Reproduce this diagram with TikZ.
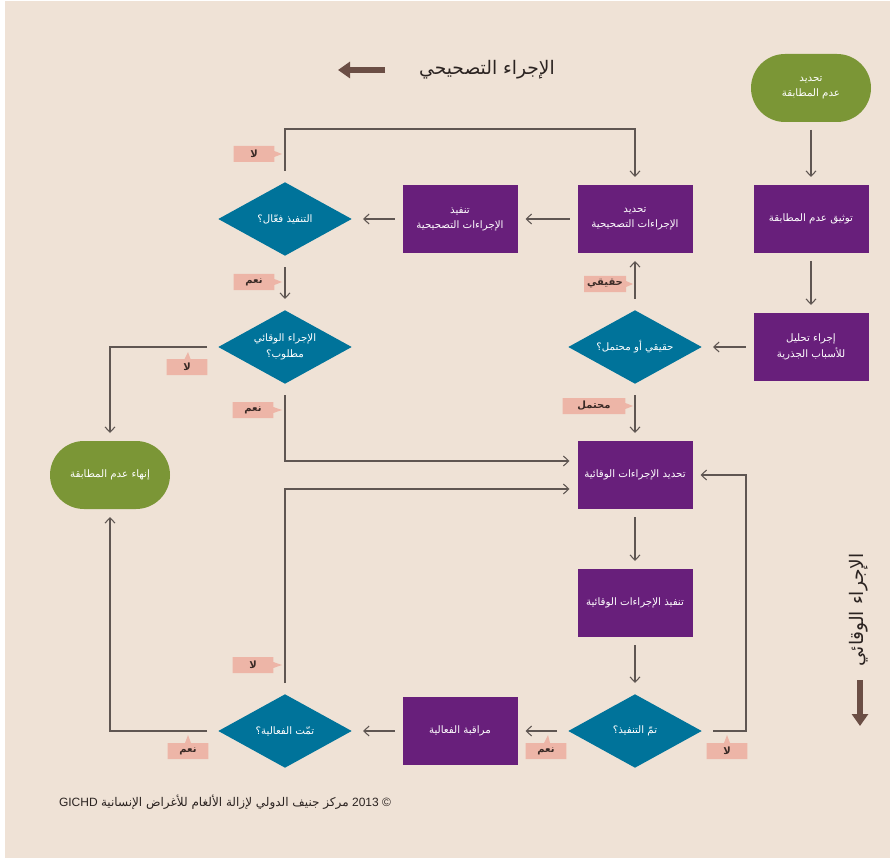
\documentclass[tikz,border=0pt]{standalone}
\usepackage{fontspec}
\setmainfont{Liberation Sans}
\newfontfamily\arabicfont[Script=Arabic]{DejaVu Sans}
\TeXXeTstate=1
\usetikzlibrary{shapes.geometric,shapes.callouts,arrows.meta,calc}

\definecolor{pagebg}{HTML}{EFE2D6}
\definecolor{boxpurple}{HTML}{681F7B}
\definecolor{decteal}{HTML}{00739A}
\definecolor{termgreen}{HTML}{7B9636}
\definecolor{tagpink}{HTML}{EDB5A7}
\definecolor{linegray}{HTML}{5F5652}
\definecolor{bigarrow}{HTML}{6B4E45}
\definecolor{tagtext}{HTML}{3A2A26}
\definecolor{headtext}{HTML}{2B2321}

\tikzset{
  boxtext/.style={text=white, align=center, font=\arabicfont\fontsize{7.7}{11.5}\selectfont},
  procbox/.style={rectangle, fill=boxpurple, minimum width=86.25pt, minimum height=51pt,
    inner sep=2pt, outer sep=6pt, boxtext},
  decision/.style={diamond, fill=decteal, minimum width=105pt, minimum height=60pt,
    inner sep=0pt, outer sep=6pt},
  dtext/.style={boxtext, inner sep=0pt},
  terminal/.style={rectangle, rounded corners=25.5pt, fill=termgreen, minimum width=90pt,
    minimum height=51pt, outer sep=6pt, boxtext},
  flow/.style={draw=linegray, line width=0.8pt, -{Straight Barb[length=4pt,width=7.5pt]}},
  tag/.style={rectangle callout, fill=tagpink, minimum width=30.5pt, minimum height=12pt,
    inner sep=0pt, text=tagtext, font=\arabicfont\bfseries\fontsize{7.5}{9}\selectfont,
    callout pointer width=4.5pt},
  heading/.style={text=headtext, font=\arabicfont\fontsize{14}{16}\selectfont, inner sep=0pt},
  thickarrow/.style={draw=bigarrow, line width=4pt, -{Triangle[length=9pt,width=12pt]}}
}

\begin{document}
\begin{tikzpicture}[x=0.75pt, y=-0.75pt]
\useasboundingbox (0,0) rectangle (892,859);
\fill[pagebg] (5,1) rectangle (890,858);

% routing rows and columns for the elbow connectors
\coordinate (toprow) at (0,129);
\coordinate (needrow) at (0,461);
\coordinate (okrow) at (0,489);
\coordinate (rightcol) at (746,0);

% headings
\node[heading] (title) at (487,70) {\beginR الإجراء التصحيحي\endR};
\coordinate (corrtail) at (385,70);
\coordinate (corrtip) at (338,70);
\draw[thickarrow] (corrtail) -- (corrtip);

\node[heading, rotate=90] (side) at (859,610) {\beginR الإجراء الوقائي\endR};
\coordinate (prevtail) at (860,680);
\coordinate (prevtip) at (860,726);
\draw[thickarrow] (prevtail) -- (prevtip);

% nodes
\node[terminal] (start) at (811,88) {\beginR تحديد\endR\\\beginR عدم المطابقة\endR};
\node[procbox] (doc) at (811,219) {\beginR توثيق عدم المطابقة\endR};
\node[procbox] (rca) at (811,347) {\beginR إجراء تحليل\endR\\\beginR للأسباب الجذرية\endR};
\node[decision, label={[dtext]center:{\beginR حقيقي أو محتمل؟\endR}}] (real) at (635,347) {};
\node[procbox] (defcor) at (635,219) {\beginR تحديد\endR\\\beginR الإجراءات التصحيحية\endR};
\node[procbox] (impcor) at (460,219) {\beginR تنفيذ\endR\\\beginR الإجراءات التصحيحية\endR};
\node[decision, label={[dtext]center:{\beginR التنفيذ فعّال؟\endR}}] (eff) at (285,219) {};
\node[decision, label={[dtext]center:{\beginR الإجراء الوقائي\endR\\\beginR مطلوب؟\endR}}] (need) at (285,347) {};
\node[terminal] (close) at (110,475) {\beginR إنهاء عدم المطابقة\endR};
\node[procbox] (defprev) at (635,475) {\beginR تحديد الإجراءات الوقائية\endR};
\node[procbox] (impprev) at (635,603) {\beginR تنفيذ الإجراءات الوقائية\endR};
\node[decision, label={[dtext]center:{\beginR تمّ التنفيذ؟\endR}}] (done) at (635,731) {};
\node[procbox] (mon) at (460,731) {\beginR مراقبة الفعالية\endR};
\node[decision, label={[dtext]center:{\beginR تمّت الفعالية؟\endR}}] (ok) at (285,731) {};

% connectors
\draw[flow] (start) -- (doc);
\draw[flow] (doc) -- (rca);
\draw[flow] (rca) -- (real);
\draw[flow] (real) -- (defcor);
\draw[flow] (real) -- (defprev);
\draw[flow] (defcor) -- (impcor);
\draw[flow] (impcor) -- (eff);
\draw[flow] (eff.north) -- (eff.north |- toprow) -| (defcor.north);
\draw[flow] (eff) -- (need);
\draw[flow] (need.west) -| (close.north);
\draw[flow] (need.south) |- (defprev.west |- needrow);
\draw[flow] (defprev) -- (impprev);
\draw[flow] (impprev) -- (done);
\draw[flow] (done) -- (mon);
\draw[flow] (mon) -- (ok);
\draw[flow] (done.east) -| (rightcol |- defprev.east) -- (defprev.east);
\draw[flow] (ok.west) -| (close.south);
\draw[flow] (ok.north) |- (defprev.west |- okrow);

% answer tags
\node[tag, callout absolute pointer={(282,154)}] (effno) at (254,154) {\beginR لا\endR};
\node[tag, callout absolute pointer={(282,282)}] (effyes) at (254,282) {\beginR نعم\endR};
\node[tag, minimum width=31.5pt, callout absolute pointer={(633,284)}] (realyes) at (605,284) {\beginR حقيقي\endR};
\node[tag, minimum width=47pt, callout absolute pointer={(633,406)}] (realmaybe) at (594,406) {\beginR محتمل\endR};
\node[tag, callout absolute pointer={(188,352)}] (needno) at (187,367) {\beginR لا\endR};
\node[tag, callout absolute pointer={(282,410)}] (needyes) at (253,410) {\beginR نعم\endR};
\node[tag, callout absolute pointer={(282,665)}] (okno) at (253,665) {\beginR لا\endR};
\node[tag, callout absolute pointer={(188,735)}] (okyes) at (188,751) {\beginR نعم\endR};
\node[tag, callout absolute pointer={(548,735)}] (doneyes) at (546,751) {\beginR نعم\endR};
\node[tag, callout absolute pointer={(727,735)}] (doneno) at (727,751) {\beginR لا\endR};

% credit line
\node[text=headtext, font=\fontsize{9}{11}\selectfont, inner sep=0pt] (credit) at (225,802)
  {\beginR ©\ \beginL 2013\endL{} {\arabicfont مركز جنيف الدولي لإزالة الألغام للأغراض الإنسانية} \beginL GICHD\endL\endR};
\end{tikzpicture}
\end{document}
